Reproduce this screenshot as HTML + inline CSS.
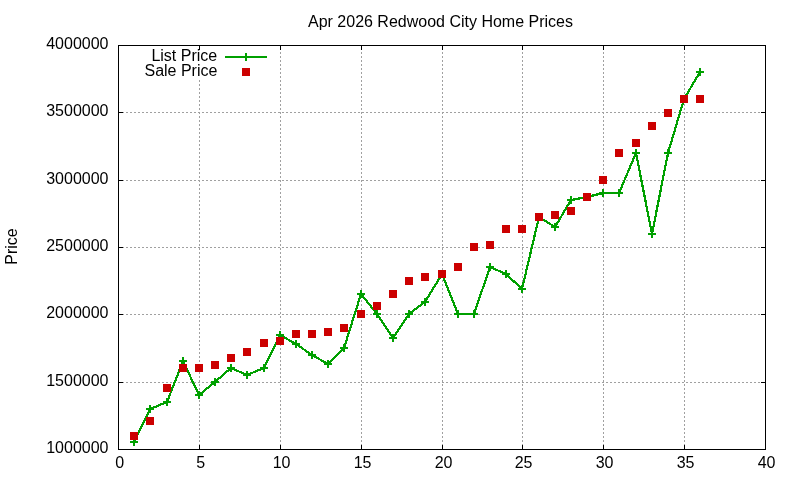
<!DOCTYPE html>
<html><head><meta charset="utf-8"><style>
html,body{margin:0;padding:0;background:#fff;}
svg{display:block;will-change:transform;}
text{font-family:"Liberation Sans",sans-serif;font-size:16px;fill:#000;}
</style></head><body>
<svg width="800" height="480" viewBox="0 0 800 480">
<rect width="800" height="480" fill="#fff"/>
<g shape-rendering="crispEdges">
<line x1="118" y1="382.5" x2="765" y2="382.5" stroke="#a0a0a0" stroke-width="1" stroke-dasharray="2,2"/>
<line x1="118" y1="314.5" x2="765" y2="314.5" stroke="#a0a0a0" stroke-width="1" stroke-dasharray="2,2"/>
<line x1="118" y1="247.5" x2="765" y2="247.5" stroke="#a0a0a0" stroke-width="1" stroke-dasharray="2,2"/>
<line x1="118" y1="180.5" x2="765" y2="180.5" stroke="#a0a0a0" stroke-width="1" stroke-dasharray="2,2"/>
<line x1="118" y1="112.5" x2="765" y2="112.5" stroke="#a0a0a0" stroke-width="1" stroke-dasharray="2,2"/>
<line x1="199.5" y1="450" x2="199.5" y2="45" stroke="#a0a0a0" stroke-width="1" stroke-dasharray="2,2"/>
<line x1="280.5" y1="450" x2="280.5" y2="45" stroke="#a0a0a0" stroke-width="1" stroke-dasharray="2,2"/>
<line x1="361.5" y1="450" x2="361.5" y2="45" stroke="#a0a0a0" stroke-width="1" stroke-dasharray="2,2"/>
<line x1="442.5" y1="450" x2="442.5" y2="45" stroke="#a0a0a0" stroke-width="1" stroke-dasharray="2,2"/>
<line x1="522.5" y1="450" x2="522.5" y2="45" stroke="#a0a0a0" stroke-width="1" stroke-dasharray="2,2"/>
<line x1="603.5" y1="450" x2="603.5" y2="45" stroke="#a0a0a0" stroke-width="1" stroke-dasharray="2,2"/>
<line x1="684.5" y1="450" x2="684.5" y2="45" stroke="#a0a0a0" stroke-width="1" stroke-dasharray="2,2"/>
<rect x="119" y="46" width="156" height="34" fill="#fff"/>
<rect x="118" y="449" width="5" height="1" fill="#000"/>
<rect x="761" y="449" width="5" height="1" fill="#000"/>
<rect x="118" y="382" width="5" height="1" fill="#000"/>
<rect x="761" y="382" width="5" height="1" fill="#000"/>
<rect x="118" y="314" width="5" height="1" fill="#000"/>
<rect x="761" y="314" width="5" height="1" fill="#000"/>
<rect x="118" y="247" width="5" height="1" fill="#000"/>
<rect x="761" y="247" width="5" height="1" fill="#000"/>
<rect x="118" y="180" width="5" height="1" fill="#000"/>
<rect x="761" y="180" width="5" height="1" fill="#000"/>
<rect x="118" y="112" width="5" height="1" fill="#000"/>
<rect x="761" y="112" width="5" height="1" fill="#000"/>
<rect x="118" y="45" width="5" height="1" fill="#000"/>
<rect x="761" y="45" width="5" height="1" fill="#000"/>
<rect x="118" y="445" width="1" height="5" fill="#000"/>
<rect x="118" y="45" width="1" height="5" fill="#000"/>
<rect x="199" y="445" width="1" height="5" fill="#000"/>
<rect x="199" y="45" width="1" height="5" fill="#000"/>
<rect x="280" y="445" width="1" height="5" fill="#000"/>
<rect x="280" y="45" width="1" height="5" fill="#000"/>
<rect x="361" y="445" width="1" height="5" fill="#000"/>
<rect x="361" y="45" width="1" height="5" fill="#000"/>
<rect x="442" y="445" width="1" height="5" fill="#000"/>
<rect x="442" y="45" width="1" height="5" fill="#000"/>
<rect x="522" y="445" width="1" height="5" fill="#000"/>
<rect x="522" y="45" width="1" height="5" fill="#000"/>
<rect x="603" y="445" width="1" height="5" fill="#000"/>
<rect x="603" y="45" width="1" height="5" fill="#000"/>
<rect x="684" y="445" width="1" height="5" fill="#000"/>
<rect x="684" y="45" width="1" height="5" fill="#000"/>
<rect x="765" y="445" width="1" height="5" fill="#000"/>
<rect x="765" y="45" width="1" height="5" fill="#000"/>
<rect x="118" y="45" width="648" height="1" fill="#000"/>
<rect x="118" y="449" width="648" height="1" fill="#000"/>
<rect x="118" y="45" width="1" height="405" fill="#000"/>
<rect x="765" y="45" width="1" height="405" fill="#000"/>
</g>
<text x="108.5" y="452.5" text-anchor="end">1000000</text>
<text x="108.5" y="385.5" text-anchor="end">1500000</text>
<text x="108.5" y="317.5" text-anchor="end">2000000</text>
<text x="108.5" y="250.5" text-anchor="end">2500000</text>
<text x="108.5" y="183.5" text-anchor="end">3000000</text>
<text x="108.5" y="115.5" text-anchor="end">3500000</text>
<text x="108.5" y="48.5" text-anchor="end">4000000</text>
<text x="119.6" y="468" text-anchor="middle">0</text>
<text x="200.6" y="468" text-anchor="middle">5</text>
<text x="281.6" y="468" text-anchor="middle">10</text>
<text x="362.6" y="468" text-anchor="middle">15</text>
<text x="443.6" y="468" text-anchor="middle">20</text>
<text x="523.6" y="468" text-anchor="middle">25</text>
<text x="604.6" y="468" text-anchor="middle">30</text>
<text x="685.6" y="468" text-anchor="middle">35</text>
<text x="766.6" y="468" text-anchor="middle">40</text>
<text x="440.5" y="26.5" text-anchor="middle">Apr 2026 Redwood City Home Prices</text>
<text x="17" y="246.5" text-anchor="middle" transform="rotate(-90 17 246.5)">Price</text>
<text x="217.2" y="61" text-anchor="end">List Price</text>
<text x="217.4" y="76" text-anchor="end">Sale Price</text>
<g shape-rendering="crispEdges">
<rect x="225" y="56" width="42" height="2" fill="#00a000"/>
<rect x="242" y="56" width="8" height="2" fill="#00a000"/><rect x="245" y="53" width="2" height="8" fill="#00a000"/>
<rect x="242" y="68" width="8" height="8" fill="#cc0000"/>
<polyline points="134,442 150,409 167,402 183,361 199,395 215,382 231,368 247,375 264,368 280,335 296,344 312,355 328,364 344,348 361,294 377,314 393,338 409,314 425,302 442,274 458,314 474,314 490,267 506,274 522,289 539,217 555,227 571,200 587,197 603,193 619,193 636,153 652,234 668,153 684,99 700,72" fill="none" stroke="#00a000" stroke-width="2.2" stroke-linejoin="round"/>
<rect x="130" y="441" width="8" height="2" fill="#00a000"/><rect x="133" y="438" width="2" height="8" fill="#00a000"/>
<rect x="146" y="408" width="8" height="2" fill="#00a000"/><rect x="149" y="405" width="2" height="8" fill="#00a000"/>
<rect x="163" y="401" width="8" height="2" fill="#00a000"/><rect x="166" y="398" width="2" height="8" fill="#00a000"/>
<rect x="179" y="360" width="8" height="2" fill="#00a000"/><rect x="182" y="357" width="2" height="8" fill="#00a000"/>
<rect x="195" y="394" width="8" height="2" fill="#00a000"/><rect x="198" y="391" width="2" height="8" fill="#00a000"/>
<rect x="211" y="381" width="8" height="2" fill="#00a000"/><rect x="214" y="378" width="2" height="8" fill="#00a000"/>
<rect x="227" y="367" width="8" height="2" fill="#00a000"/><rect x="230" y="364" width="2" height="8" fill="#00a000"/>
<rect x="243" y="374" width="8" height="2" fill="#00a000"/><rect x="246" y="371" width="2" height="8" fill="#00a000"/>
<rect x="260" y="367" width="8" height="2" fill="#00a000"/><rect x="263" y="364" width="2" height="8" fill="#00a000"/>
<rect x="276" y="334" width="8" height="2" fill="#00a000"/><rect x="279" y="331" width="2" height="8" fill="#00a000"/>
<rect x="292" y="343" width="8" height="2" fill="#00a000"/><rect x="295" y="340" width="2" height="8" fill="#00a000"/>
<rect x="308" y="354" width="8" height="2" fill="#00a000"/><rect x="311" y="351" width="2" height="8" fill="#00a000"/>
<rect x="324" y="363" width="8" height="2" fill="#00a000"/><rect x="327" y="360" width="2" height="8" fill="#00a000"/>
<rect x="340" y="347" width="8" height="2" fill="#00a000"/><rect x="343" y="344" width="2" height="8" fill="#00a000"/>
<rect x="357" y="293" width="8" height="2" fill="#00a000"/><rect x="360" y="290" width="2" height="8" fill="#00a000"/>
<rect x="373" y="313" width="8" height="2" fill="#00a000"/><rect x="376" y="310" width="2" height="8" fill="#00a000"/>
<rect x="389" y="337" width="8" height="2" fill="#00a000"/><rect x="392" y="334" width="2" height="8" fill="#00a000"/>
<rect x="405" y="313" width="8" height="2" fill="#00a000"/><rect x="408" y="310" width="2" height="8" fill="#00a000"/>
<rect x="421" y="301" width="8" height="2" fill="#00a000"/><rect x="424" y="298" width="2" height="8" fill="#00a000"/>
<rect x="438" y="273" width="8" height="2" fill="#00a000"/><rect x="441" y="270" width="2" height="8" fill="#00a000"/>
<rect x="454" y="313" width="8" height="2" fill="#00a000"/><rect x="457" y="310" width="2" height="8" fill="#00a000"/>
<rect x="470" y="313" width="8" height="2" fill="#00a000"/><rect x="473" y="310" width="2" height="8" fill="#00a000"/>
<rect x="486" y="266" width="8" height="2" fill="#00a000"/><rect x="489" y="263" width="2" height="8" fill="#00a000"/>
<rect x="502" y="273" width="8" height="2" fill="#00a000"/><rect x="505" y="270" width="2" height="8" fill="#00a000"/>
<rect x="518" y="288" width="8" height="2" fill="#00a000"/><rect x="521" y="285" width="2" height="8" fill="#00a000"/>
<rect x="535" y="216" width="8" height="2" fill="#00a000"/><rect x="538" y="213" width="2" height="8" fill="#00a000"/>
<rect x="551" y="226" width="8" height="2" fill="#00a000"/><rect x="554" y="223" width="2" height="8" fill="#00a000"/>
<rect x="567" y="199" width="8" height="2" fill="#00a000"/><rect x="570" y="196" width="2" height="8" fill="#00a000"/>
<rect x="583" y="196" width="8" height="2" fill="#00a000"/><rect x="586" y="193" width="2" height="8" fill="#00a000"/>
<rect x="599" y="192" width="8" height="2" fill="#00a000"/><rect x="602" y="189" width="2" height="8" fill="#00a000"/>
<rect x="615" y="192" width="8" height="2" fill="#00a000"/><rect x="618" y="189" width="2" height="8" fill="#00a000"/>
<rect x="632" y="152" width="8" height="2" fill="#00a000"/><rect x="635" y="149" width="2" height="8" fill="#00a000"/>
<rect x="648" y="233" width="8" height="2" fill="#00a000"/><rect x="651" y="230" width="2" height="8" fill="#00a000"/>
<rect x="664" y="152" width="8" height="2" fill="#00a000"/><rect x="667" y="149" width="2" height="8" fill="#00a000"/>
<rect x="680" y="98" width="8" height="2" fill="#00a000"/><rect x="683" y="95" width="2" height="8" fill="#00a000"/>
<rect x="696" y="71" width="8" height="2" fill="#00a000"/><rect x="699" y="68" width="2" height="8" fill="#00a000"/>
<rect x="130" y="432" width="8" height="8" fill="#cc0000"/>
<rect x="146" y="417" width="8" height="8" fill="#cc0000"/>
<rect x="163" y="384" width="8" height="8" fill="#cc0000"/>
<rect x="179" y="364" width="8" height="8" fill="#cc0000"/>
<rect x="195" y="364" width="8" height="8" fill="#cc0000"/>
<rect x="211" y="361" width="8" height="8" fill="#cc0000"/>
<rect x="227" y="354" width="8" height="8" fill="#cc0000"/>
<rect x="243" y="348" width="8" height="8" fill="#cc0000"/>
<rect x="260" y="339" width="8" height="8" fill="#cc0000"/>
<rect x="276" y="337" width="8" height="8" fill="#cc0000"/>
<rect x="292" y="330" width="8" height="8" fill="#cc0000"/>
<rect x="308" y="330" width="8" height="8" fill="#cc0000"/>
<rect x="324" y="328" width="8" height="8" fill="#cc0000"/>
<rect x="340" y="324" width="8" height="8" fill="#cc0000"/>
<rect x="357" y="310" width="8" height="8" fill="#cc0000"/>
<rect x="373" y="302" width="8" height="8" fill="#cc0000"/>
<rect x="389" y="290" width="8" height="8" fill="#cc0000"/>
<rect x="405" y="277" width="8" height="8" fill="#cc0000"/>
<rect x="421" y="273" width="8" height="8" fill="#cc0000"/>
<rect x="438" y="270" width="8" height="8" fill="#cc0000"/>
<rect x="454" y="263" width="8" height="8" fill="#cc0000"/>
<rect x="470" y="243" width="8" height="8" fill="#cc0000"/>
<rect x="486" y="241" width="8" height="8" fill="#cc0000"/>
<rect x="502" y="225" width="8" height="8" fill="#cc0000"/>
<rect x="518" y="225" width="8" height="8" fill="#cc0000"/>
<rect x="535" y="213" width="8" height="8" fill="#cc0000"/>
<rect x="551" y="211" width="8" height="8" fill="#cc0000"/>
<rect x="567" y="207" width="8" height="8" fill="#cc0000"/>
<rect x="583" y="193" width="8" height="8" fill="#cc0000"/>
<rect x="599" y="176" width="8" height="8" fill="#cc0000"/>
<rect x="615" y="149" width="8" height="8" fill="#cc0000"/>
<rect x="632" y="139" width="8" height="8" fill="#cc0000"/>
<rect x="648" y="122" width="8" height="8" fill="#cc0000"/>
<rect x="664" y="109" width="8" height="8" fill="#cc0000"/>
<rect x="680" y="95" width="8" height="8" fill="#cc0000"/>
<rect x="696" y="95" width="8" height="8" fill="#cc0000"/>
</g>
</svg>
</body></html>
